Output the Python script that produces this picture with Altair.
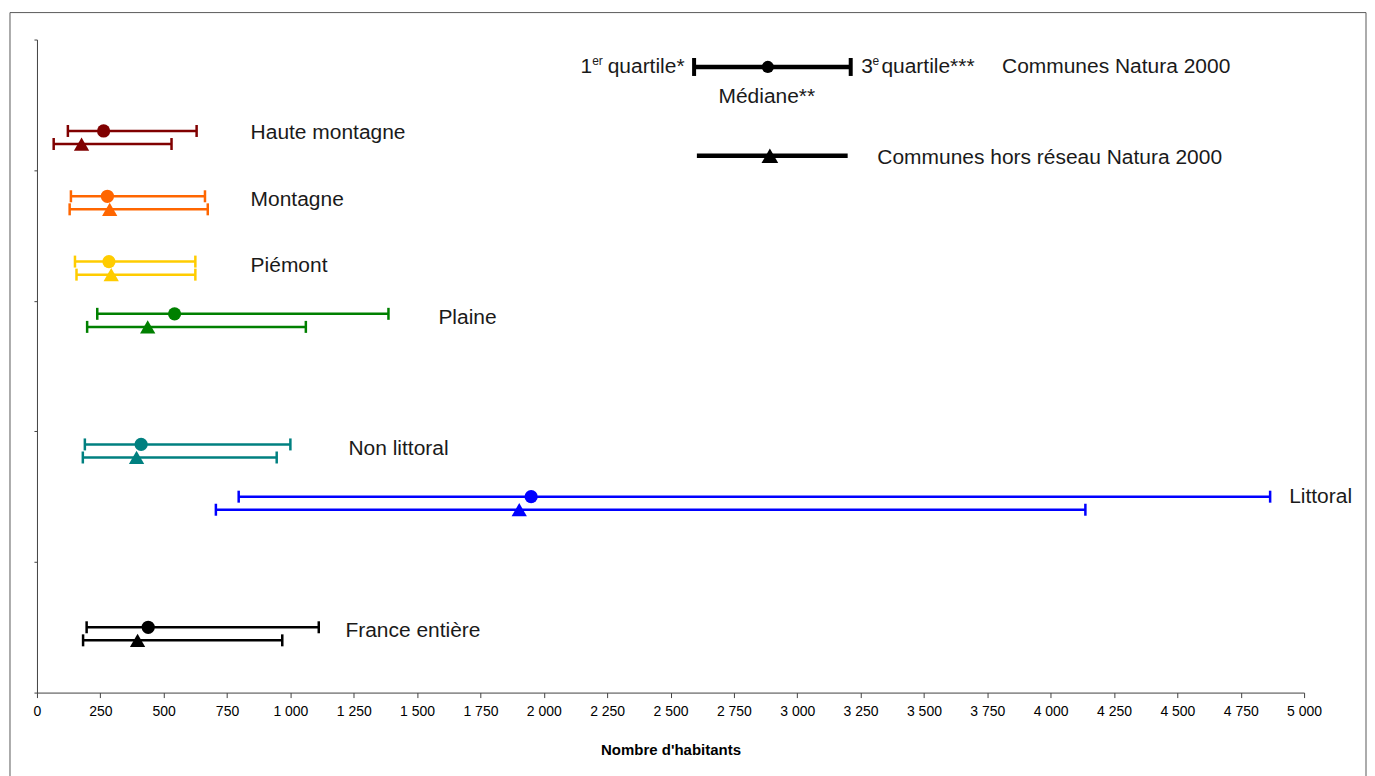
import altair as alt
import pandas as pd

# ---- data ----
categories = ["Haute montagne", "Montagne", "Piémont", "Plaine", "Non littoral", "Littoral", "France entière"]
colors = ["#800000", "#FF6600", "#FFCC00", "#008000", "#008080", "#0000FF", "#000000"]

# Communes Natura 2000 (circle)
n2000_q1 = [122, 134, 150, 238, 189, 796, 196]
n2000_med = [263, 278, 284, 543, 411, 1950, 439]
n2000_q3 = [630, 663, 625, 1387, 1000, 4866, 1112]
n2000_row = [4.3, 3.8, 3.3, 2.9, 1.9, 1.5, 0.5]

# Communes hors réseau Natura 2000 (triangle)
hors_q1 = [66, 129, 156, 198, 181, 706, 182]
hors_med = [176, 287, 293, 437, 393, 1903, 397]
hors_q3 = [531, 674, 625, 1061, 946, 4137, 968]
hors_row = [4.2, 3.7, 3.2, 2.8, 1.8, 1.4, 0.4]

# category label anchors (data units)
label_x = [843, 843, 843, 1584, 1229, 4941, 1217]
label_y = [4.285, 3.769, 3.264, 2.867, 1.865, 1.498, 0.474]

# legend (drawn inside the plot, as in the reference)
legend_series = ["Communes Natura 2000", "Communes hors réseau Natura 2000"]
legend_q1 = [2593, 2604]
legend_med = [2884, 2892]
legend_q3 = [3211, 3199]
legend_row = [4.79, 4.11]
legend_shape = ["circle", "triangle-up"]

legend_texts = ["1", "quartile*", "3", "quartile***", "Communes Natura 2000", "Communes hors réseau Natura 2000"]
legend_text_x = [2145, 2252, 3253, 3332, 3808, 3316]
legend_text_y = [4.786, 4.786, 4.786, 4.786, 4.786, 4.09]
sup_texts = ["er", "e"]
sup_x = [2191, 3297]
sup_y = [4.786, 4.786]
median_text = ["Médiane**"]
median_x = [2880]
median_y = [4.557]

x_ticks = list(range(0, 5001, 250))

FONT = "Liberation Sans, Arial, sans-serif"
TXT = "#1a1a1a"

df = pd.DataFrame({
    "category": categories * 2,
    "series": ["n2000"] * 7 + ["hors"] * 7,
    "q1": n2000_q1 + hors_q1,
    "med": n2000_med + hors_med,
    "q3": n2000_q3 + hors_q3,
    "row": n2000_row + hors_row,
})
labels_df = pd.DataFrame({"category": categories, "x": label_x, "y": label_y})
leg_df = pd.DataFrame({"series": legend_series, "q1": legend_q1, "med": legend_med,
                       "q3": legend_q3, "row": legend_row, "shape": legend_shape})
legtxt_df = pd.DataFrame({"t": legend_texts, "x": legend_text_x, "y": legend_text_y})
sup_df = pd.DataFrame({"t": sup_texts, "x": sup_x, "y": sup_y})
med_df = pd.DataFrame({"t": median_text, "x": median_x, "y": median_y})

xscale = alt.Scale(domain=[0, 5000], nice=False, zero=False)
yscale = alt.Scale(domain=[0, 5], nice=False, zero=False)
xaxis = alt.Axis(values=x_ticks, labelExpr="replace(format(datum.value, ','), ',', ' ')",
                 grid=False, tickSize=5, labelPadding=7, labelFontSize=14, labelFont=FONT,
                 labelColor="#000000", domainColor="#404040", tickColor="#404040",
                 titleFont=FONT, titleFontSize=15, titleFontWeight="bold", titleColor="#000000",
                 titlePadding=24, labelFlush=False)
yaxis = alt.Axis(values=[0, 1, 2, 3, 4, 5], labels=False, grid=False, tickSize=3,
                 domainColor="#404040", tickColor="#404040", title=None)
TITLE = "Nombre d'habitants"

def X(field):
    return alt.X(f"{field}:Q", scale=xscale, axis=xaxis, title=TITLE)

def Y(field):
    return alt.Y(f"{field}:Q", scale=yscale, axis=yaxis, title=None)

color = alt.Color("category:N", scale=alt.Scale(domain=categories, range=colors), legend=None)

base = alt.Chart(df)
rules = base.mark_rule(strokeWidth=2.5, opacity=1).encode(x=X("q1"), x2="q3:Q", y=Y("row"), color=color)
cap_l = base.mark_tick(orient="vertical", size=12, thickness=2.5, opacity=1).encode(
    x=X("q1"), y=Y("row"), color=color)
cap_r = base.mark_tick(orient="vertical", size=12, thickness=2.5, opacity=1).encode(
    x=X("q3"), y=Y("row"), color=color)
circles = base.transform_filter(alt.datum.series == "n2000").mark_point(
    shape="circle", filled=True, size=175, opacity=1).encode(x=X("med"), y=Y("row"), color=color)
tris = base.transform_filter(alt.datum.series == "hors").mark_point(
    shape="triangle-up", filled=True, size=235, opacity=1).encode(x=X("med"), y=Y("row"), color=color)

cat_labels = alt.Chart(labels_df).mark_text(
    align="left", baseline="middle", font=FONT, fontSize=21, color=TXT).encode(
    x=X("x"), y=Y("y"), text="category:N")

leg_base = alt.Chart(leg_df)
leg_rule = leg_base.mark_rule(strokeWidth=4.5, color="black", opacity=1).encode(
    x=X("q1"), x2="q3:Q", y=Y("row"))
leg_circ = leg_base.transform_filter(alt.datum.shape == "circle")
leg_tri = leg_base.transform_filter(alt.datum.shape == "triangle-up")
leg_cap_l = leg_circ.mark_tick(orient="vertical", size=18, thickness=4, color="black", opacity=1).encode(
    x=X("q1"), y=Y("row"))
leg_cap_r = leg_circ.mark_tick(orient="vertical", size=18, thickness=4, color="black", opacity=1).encode(
    x=X("q3"), y=Y("row"))
leg_pt_c = leg_circ.mark_point(shape="circle", filled=True, opacity=1, color="black", size=150).encode(
    x=X("med"), y=Y("row"))
leg_pt_t = leg_tri.mark_point(shape="triangle-up", filled=True, opacity=1, color="black", size=280).encode(
    x=X("med"), y=Y("row"))

leg_txt = alt.Chart(legtxt_df).mark_text(
    align="left", baseline="middle", font=FONT, fontSize=21, color=TXT).encode(
    x=X("x"), y=Y("y"), text="t:N")
sup_txt = alt.Chart(sup_df).mark_text(
    align="left", baseline="middle", font=FONT, fontSize=12, dy=-6, color=TXT).encode(
    x=X("x"), y=Y("y"), text="t:N")
med_txt = alt.Chart(med_df).mark_text(
    align="center", baseline="middle", font=FONT, fontSize=21, color=TXT).encode(
    x=X("x"), y=Y("y"), text="t:N")

frame = alt.Chart(pd.DataFrame({"f": [1]})).mark_rect(
    filled=False, stroke="#595959", strokeWidth=1).encode(
    x=alt.value(-27), x2=alt.value(1269 + 62), y=alt.value(-27), y2=alt.value(654 + 120))

chart = alt.layer(
    frame, rules, cap_l, cap_r, circles, tris, cat_labels,
    leg_rule, leg_cap_l, leg_cap_r, leg_pt_c, leg_pt_t, leg_txt, sup_txt, med_txt
).properties(
    width=1269, height=654, background="white",
    padding={"left": 1, "top": 3, "right": 0, "bottom": 0},
).configure_view(strokeWidth=0, stroke="transparent")

chart.save("out.html", embed_options={"renderer": "svg", "actions": False})
